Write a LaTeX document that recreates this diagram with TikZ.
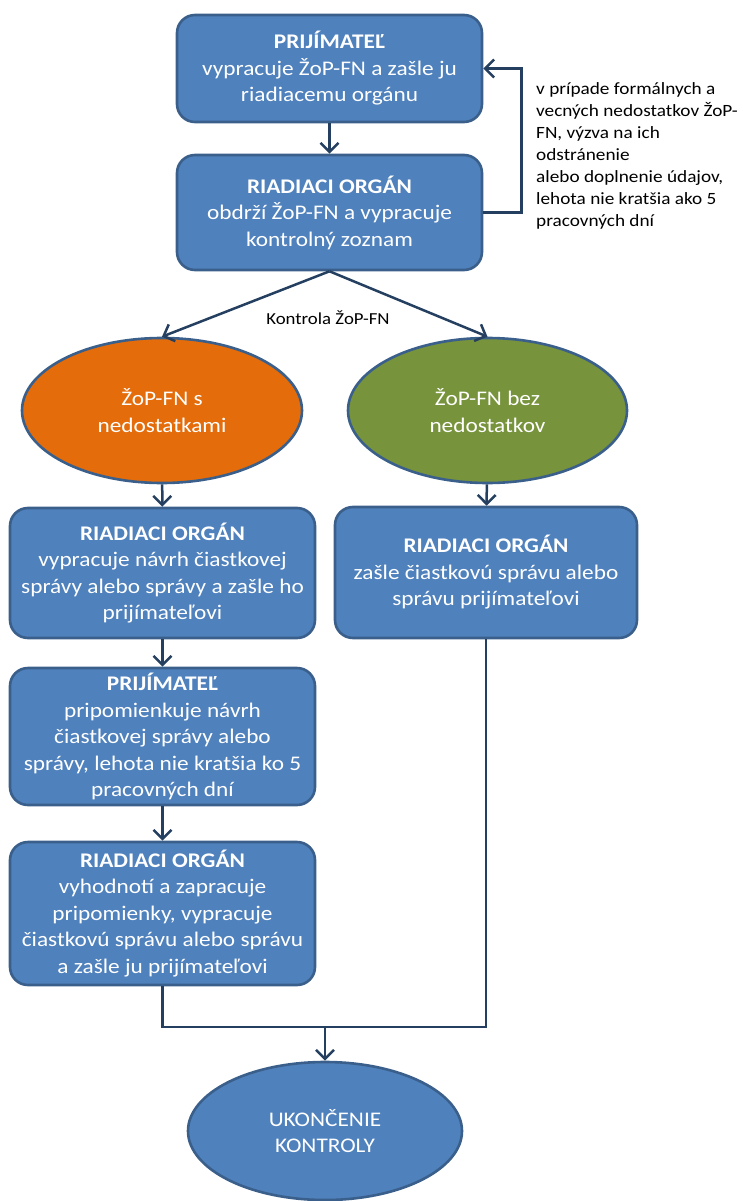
\documentclass[tikz,border=0pt]{standalone}
\usepackage{fontspec}
\setmainfont{Carlito}[FakeStretch=1.12]
\usetikzlibrary{arrows.meta,shapes.geometric}
\definecolor{boxfill}{HTML}{4F81BD}
\definecolor{boxline}{HTML}{3A5F8B}
\definecolor{conn}{HTML}{243F60}
\definecolor{orangefill}{HTML}{E46C0A}
\definecolor{greenfill}{HTML}{77933C}
\tikzset{
  stepbox/.style={draw=boxline, line width=2.6pt, fill=boxfill, rounded corners=18pt,
    text=white, align=center, inner sep=0pt,
    font=\fontsize{20.8}{26.5}\selectfont},
  oval/.style={ellipse, draw=boxline, line width=2.6pt, text=white, align=center, inner sep=0pt,
    font=\fontsize{20.8}{26.5}\selectfont},
  conline/.style={draw=conn, line width=2.5pt},
  arr/.style={conline, -{Straight Barb[length=9pt,width=18pt]}},
}
\begin{document}
\begin{tikzpicture}[x=1pt,y=-1pt]
\useasboundingbox (0,0) rectangle (742,1201);
\node[stepbox, minimum width=305pt, minimum height=107pt] (b1) at (329.5,68.5)
  {\textbf{PRIJÍMATEĽ}\\vypracuje ŽoP-FN a zašle ju\\riadiacemu orgánu};
\node[stepbox, minimum width=305pt, minimum height=115pt] (b2) at (329.5,212.5)
  {\textbf{RIADIACI ORGÁN}\\obdrží ŽoP-FN a vypracuje\\kontrolný zoznam};
\node[oval, fill=orangefill, minimum width=280pt, minimum height=145pt] (eL) at (162,410.5)
  {ŽoP-FN s\\nedostatkami};
\node[oval, fill=greenfill, minimum width=279pt, minimum height=145pt] (eR) at (487.5,410.5)
  {ŽoP-FN bez\\nedostatkov};
\node[stepbox, minimum width=305pt, minimum height=130pt] (b3) at (162.5,573)
  {\textbf{RIADIACI ORGÁN}\\vypracuje návrh čiastkovej\\správy alebo správy a zašle ho\\prijímateľovi};
\node[stepbox, minimum width=302pt, minimum height=131pt] (b4) at (486,572.5)
  {\textbf{RIADIACI ORGÁN}\\zašle čiastkovú správu alebo\\správu prijímateľovi};
\node[stepbox, minimum width=305pt, minimum height=137pt] (b5) at (162.5,736.5)
  {\textbf{PRIJÍMATEĽ}\\pripomienkuje návrh\\čiastkovej správy alebo\\správy, lehota nie kratšia ko 5\\pracovných dní};
\node[stepbox, minimum width=305pt, minimum height=143pt] (b6) at (162.5,913.5)
  {\textbf{RIADIACI ORGÁN}\\vyhodnotí a zapracuje\\pripomienky, vypracuje\\čiastkovú správu alebo správu\\a zašle ju prijímateľovi};
\node[oval, fill=boxfill, minimum width=274pt, minimum height=138pt] (end) at (325,1131)
  {UKONČENIE\\KONTROLY};
\node[anchor=north west, align=left, inner sep=0pt, font=\fontsize{17.2}{22}\selectfont] (side) at (536,82)
  {v prípade formálnych a\\vecných nedostatkov ŽoP-\\FN, výzva na ich\\odstránenie\\alebo doplnenie údajov,\\lehota nie kratšia ako 5\\pracovných dní};
\node[inner sep=0pt, font=\fontsize{16.8}{20}\selectfont] (kl) at (328,318) {Kontrola ŽoP-FN};
\coordinate (m) at (325,1027);
\draw[arr] (b1) -- (b2);
\draw[arr] (b2.east) -- ++(38,0) |- (b1.east);
\draw[arr] (b2.south) -- (eL.north);
\draw[arr] (b2.south) -- (eR.north);
\draw[arr] (eL) -- (b3);
\draw[arr] (eR) -- (b4);
\draw[arr] (b3) -- (b5);
\draw[arr] (b5) -- (b6);
\draw[conline] (b6.south) |- (m);
\draw[conline] (b4.south) |- (m);
\draw[arr] (m) -- (end.north);
\end{tikzpicture}
\end{document}
